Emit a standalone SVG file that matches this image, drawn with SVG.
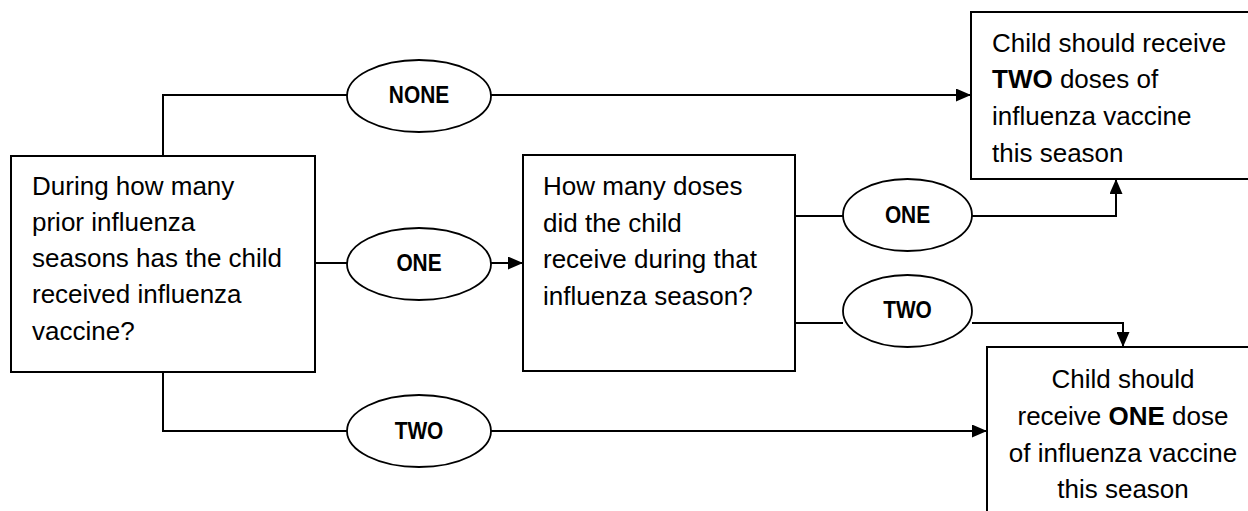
<svg xmlns="http://www.w3.org/2000/svg" width="1248" height="511" viewBox="0 0 1248 511">
<defs>
<marker id="arr" markerUnits="userSpaceOnUse" markerWidth="15" markerHeight="13" refX="15" refY="6.5" orient="auto">
<path d="M0,0 L15,6.5 L0,13 z" fill="#000"/>
</marker>
<style>
.box{fill:#fff;stroke:#000;stroke-width:2}
.ell{fill:#fff;stroke:#000;stroke-width:1.8}
.t{font-family:"Liberation Sans",Arial,sans-serif;font-size:26px;fill:#000}
.lbl{font-family:"Liberation Sans",Arial,sans-serif;font-size:24px;font-weight:bold;fill:#000;text-anchor:middle}
.c{fill:none;stroke:#000;stroke-width:2}
</style>
</defs>
<rect width="1248" height="511" fill="#fff"/>
<g id="connectors">
<path class="c" d="M163,156 V95 H347"/>
<path class="c" d="M491,95 H971" marker-end="url(#arr)"/>
<path class="c" d="M315,263 H347"/>
<path class="c" d="M491,263 H523" marker-end="url(#arr)"/>
<path class="c" d="M163,372 V431 H347"/>
<path class="c" d="M491,431 H987" marker-end="url(#arr)"/>
<path class="c" d="M795,216 H843"/>
<path class="c" d="M972,216 H1116 V179" marker-end="url(#arr)"/>
<path class="c" d="M795,323 H843"/>
<path class="c" d="M972,323 H1123 V347" marker-end="url(#arr)"/>
</g>
<g id="q1">
<rect class="box" x="11" y="156" width="304" height="216"/>
<text class="t" x="32" y="195">During how many</text>
<text class="t" x="32" y="231">prior influenza</text>
<text class="t" x="32" y="267">seasons has the child</text>
<text class="t" x="32" y="303">received influenza</text>
<text class="t" x="32" y="340">vaccine?</text>
</g>
<g id="none">
<ellipse class="ell" cx="419" cy="96" rx="72" ry="36"/>
<text class="lbl" transform="translate(419,103) scale(0.87,1)">NONE</text>
</g>
<g id="one1">
<ellipse class="ell" cx="419" cy="264" rx="72" ry="36"/>
<text class="lbl" transform="translate(419,271) scale(0.87,1)">ONE</text>
</g>
<g id="two1">
<ellipse class="ell" cx="419" cy="431" rx="72" ry="36"/>
<text class="lbl" transform="translate(419,439) scale(0.87,1)">TWO</text>
</g>
<g id="q2">
<rect class="box" x="523" y="155" width="272" height="216"/>
<text class="t" x="543" y="195">How many doses</text>
<text class="t" x="543" y="232">did the child</text>
<text class="t" x="543" y="268">receive during that</text>
<text class="t" x="543" y="305">influenza season?</text>
</g>
<g id="one2">
<ellipse class="ell" cx="907.5" cy="215" rx="64.5" ry="36"/>
<text class="lbl" transform="translate(907.5,223) scale(0.87,1)">ONE</text>
</g>
<g id="two2">
<ellipse class="ell" cx="907.5" cy="311" rx="64.5" ry="36"/>
<text class="lbl" transform="translate(907.5,318) scale(0.87,1)">TWO</text>
</g>
<g id="res2">
<rect class="box" x="971" y="12" width="300" height="167"/>
<text class="t" x="992" y="52">Child should receive</text>
<text class="t" x="992" y="88"><tspan font-weight="bold">TWO</tspan> doses of</text>
<text class="t" x="992" y="125">influenza vaccine</text>
<text class="t" x="992" y="162">this season</text>
</g>
<g id="res1">
<rect class="box" x="987" y="347" width="300" height="200"/>
<text class="t" x="1123" y="388" text-anchor="middle">Child should</text>
<text class="t" x="1123" y="425" text-anchor="middle">receive <tspan font-weight="bold">ONE</tspan> dose</text>
<text class="t" x="1123" y="462" text-anchor="middle">of influenza vaccine</text>
<text class="t" x="1123" y="498" text-anchor="middle">this season</text>
</g>
</svg>
